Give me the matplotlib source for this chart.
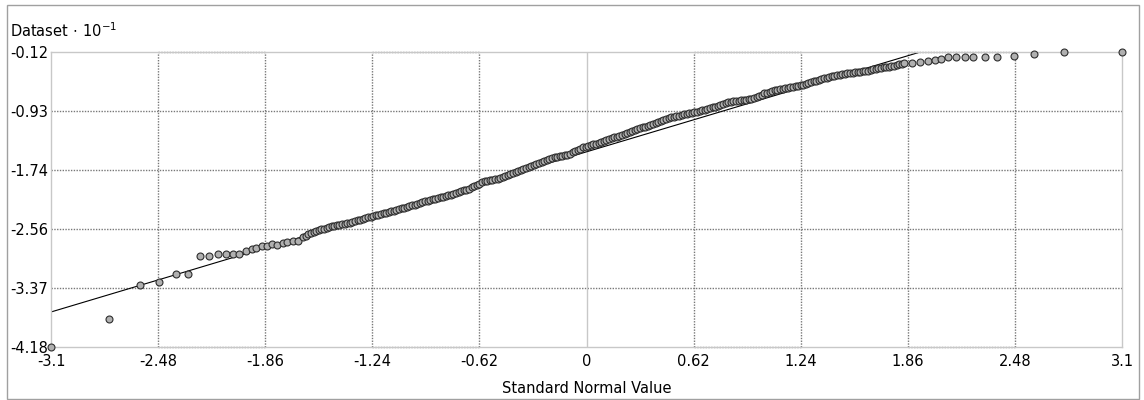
'''plot.py

   Normal probability plot of the dataset (values in units of 10^-1)
'''

import numpy as np
import matplotlib
matplotlib.use('Agg')
import matplotlib.pyplot as plt
from matplotlib.patches import Rectangle


#
#  Data.
#
# Lower tail, individual points (standard normal value, dataset value).
low_x = [-3.100, -2.762, -2.585, -2.473, -2.376, -2.305, -2.235, -2.183,
         -2.131, -2.085, -2.044, -2.010, -1.973, -1.938, -1.913, -1.880,
         -1.851, -1.822, -1.793, -1.758, -1.732, -1.701, -1.672]
low_y = [-4.180, -3.790, -3.327, -3.281, -3.171, -3.171, -2.928, -2.928,
         -2.905, -2.905, -2.900, -2.905, -2.859, -2.836, -2.822, -2.790,
         -2.790, -2.767, -2.776, -2.753, -2.739, -2.725, -2.717]

# Dense middle part of the chain.
mid_x = [-1.64, -1.61, -1.58, -1.55, -1.52, -1.49, -1.46, -1.43, -1.40, -1.37,
         -1.34, -1.31, -1.28, -1.25, -1.22, -1.19, -1.16, -1.13, -1.10, -1.07,
         -1.04, -1.01, -0.98, -0.95, -0.92, -0.89, -0.86, -0.83, -0.80, -0.77,
         -0.74, -0.71, -0.68, -0.65, -0.62, -0.59, -0.56, -0.53, -0.50, -0.47,
         -0.44, -0.41, -0.38, -0.35, -0.32, -0.29, -0.26, -0.23, -0.20, -0.17,
         -0.14, -0.11, -0.08, -0.05, -0.02, 0.01, 0.04, 0.07, 0.10, 0.13,
         0.16, 0.19, 0.22, 0.25, 0.28, 0.31, 0.34, 0.37, 0.40, 0.43,
         0.46, 0.49, 0.52, 0.55, 0.58, 0.61, 0.64, 0.67, 0.70, 0.73,
         0.76, 0.79, 0.82, 0.85, 0.88, 0.91, 0.94, 0.97, 1.00, 1.03,
         1.06, 1.09, 1.12, 1.15, 1.18, 1.21, 1.24, 1.27, 1.30, 1.33,
         1.36, 1.39, 1.42, 1.45, 1.48, 1.51, 1.54, 1.57, 1.60, 1.63,
         1.66, 1.69, 1.72, 1.75, 1.78, 1.81, 1.84]
mid_y = [-2.669, -2.624, -2.595, -2.573, -2.550, -2.528, -2.512, -2.498, -2.484, -2.469,
         -2.449, -2.428, -2.406, -2.385, -2.367, -2.349, -2.331, -2.313, -2.292, -2.272,
         -2.251, -2.231, -2.209, -2.188, -2.167, -2.147, -2.130, -2.112, -2.094, -2.072,
         -2.048, -2.025, -2.001, -1.967, -1.930, -1.901, -1.887, -1.872, -1.857, -1.830,
         -1.803, -1.774, -1.744, -1.715, -1.685, -1.656, -1.629, -1.601, -1.578, -1.564,
         -1.550, -1.535, -1.501, -1.468, -1.434, -1.413, -1.392, -1.370, -1.346, -1.322,
         -1.296, -1.270, -1.245, -1.219, -1.195, -1.171, -1.147, -1.123, -1.096, -1.068,
         -1.040, -1.016, -1.002, -0.987, -0.973, -0.958, -0.940, -0.922, -0.904, -0.883,
         -0.860, -0.836, -0.813, -0.799, -0.790, -0.782, -0.773, -0.749, -0.720, -0.691,
         -0.668, -0.649, -0.631, -0.615, -0.603, -0.591, -0.579, -0.561, -0.537, -0.514,
         -0.490, -0.472, -0.456, -0.441, -0.426, -0.415, -0.406, -0.397, -0.388, -0.377,
         -0.358, -0.342, -0.333, -0.324, -0.308, -0.290, -0.272]

# The points lying between those above.
mid2_x = [-1.625, -1.595, -1.565, -1.535, -1.505, -1.475, -1.445, -1.415, -1.385, -1.355,
          -1.325, -1.295, -1.265, -1.235, -1.205, -1.175, -1.145, -1.115, -1.085, -1.055,
          -1.025, -0.995, -0.965, -0.935, -0.905, -0.875, -0.845, -0.815, -0.785, -0.755,
          -0.725, -0.695, -0.665, -0.635, -0.605, -0.575, -0.545, -0.515, -0.485, -0.455,
          -0.425, -0.395, -0.365, -0.335, -0.305, -0.275, -0.245, -0.215, -0.185, -0.155,
          -0.125, -0.095, -0.065, -0.035, -0.005, 0.025, 0.055, 0.085, 0.115, 0.145,
          0.175, 0.205, 0.235, 0.265, 0.295, 0.325, 0.355, 0.385, 0.415, 0.445,
          0.475, 0.505, 0.535, 0.565, 0.595, 0.625, 0.655, 0.685, 0.715, 0.745,
          0.775, 0.805, 0.835, 0.865, 0.895, 0.925, 0.955, 0.985, 1.015, 1.045,
          1.075, 1.105, 1.135, 1.165, 1.195, 1.225, 1.255, 1.285, 1.315, 1.345,
          1.375, 1.405, 1.435, 1.465, 1.495, 1.525, 1.555, 1.585, 1.615, 1.645,
          1.675, 1.705, 1.735, 1.765, 1.795, 1.825]
mid2_y = [-2.646, -2.610, -2.584, -2.561, -2.539, -2.520, -2.505, -2.491, -2.476, -2.459,
          -2.438, -2.417, -2.395, -2.376, -2.358, -2.340, -2.322, -2.302, -2.282, -2.261,
          -2.241, -2.220, -2.198, -2.177, -2.157, -2.138, -2.121, -2.103, -2.083, -2.060,
          -2.036, -2.013, -1.984, -1.948, -1.915, -1.894, -1.879, -1.864, -1.843, -1.816,
          -1.788, -1.759, -1.729, -1.700, -1.670, -1.642, -1.615, -1.589, -1.571, -1.557,
          -1.542, -1.518, -1.484, -1.451, -1.423, -1.402, -1.381, -1.358, -1.334, -1.309,
          -1.283, -1.257, -1.232, -1.207, -1.183, -1.159, -1.135, -1.109, -1.082, -1.054,
          -1.028, -1.009, -0.994, -0.980, -0.965, -0.949, -0.931, -0.913, -0.893, -0.871,
          -0.848, -0.824, -0.806, -0.794, -0.786, -0.777, -0.761, -0.734, -0.705, -0.679,
          -0.658, -0.640, -0.623, -0.609, -0.597, -0.585, -0.570, -0.549, -0.525, -0.502,
          -0.481, -0.464, -0.448, -0.433, -0.420, -0.410, -0.401, -0.392, -0.382, -0.367,
          -0.350, -0.337, -0.328, -0.316, -0.299, -0.281]

# Upper tail, individual points.
high_x = [1.883, 1.931, 1.979, 2.017, 2.051, 2.091, 2.139, 2.189, 2.239,
          2.309, 2.378, 2.477, 2.589, 2.764, 3.100]
high_y = [-0.267, -0.262, -0.240, -0.230, -0.216, -0.193, -0.193, -0.193,
          -0.193, -0.193, -0.193, -0.171, -0.152, -0.124, -0.120]

# Reference line (end points).
fit_x = [-3.1, 3.1]
fit_y = [-3.698, 0.710]

# Axis ticks and their labels.
x_ticks = [-3.1, -2.48, -1.86, -1.24, -0.62, 0.0, 0.62, 1.24, 1.86, 2.48, 3.1]
x_labels = ['-3.1', '-2.48', '-1.86', '-1.24', '-0.62', '0', '0.62', '1.24',
            '1.86', '2.48', '3.1']
y_ticks = [-0.12, -0.932, -1.744, -2.556, -3.368, -4.18]
y_labels = ['-0.12', '-0.93', '-1.74', '-2.56', '-3.37', '-4.18']


#
#  Plot.
#
W, H = 1144, 400
fig = plt.figure(figsize=(W / 100, H / 100), dpi=100)
ax = fig.add_axes([51 / W, 53 / H, 1071 / W, 295 / H])

xmin, xmax = x_ticks[0], x_ticks[-1]
ymin, ymax = y_ticks[-1], y_ticks[0]
ax.set_xlim(xmin, xmax)
ax.set_ylim(ymin, ymax)

light = '#c8c8c8'
dotted = dict(color='#787878', linestyle=(0, (1, 1)), linewidth=1.0, zorder=1)

for s in ax.spines.values():
    s.set_color(light)
    s.set_linewidth(1.0)

# Grid: dotted lines at inner ticks, light solid line at zero.
for y in y_ticks[1:-1]:
    ax.axhline(y, **dotted)
for x in x_ticks[1:-1]:
    if x == 0.0:
        ax.axvline(x, color=light, linewidth=1.0, zorder=1)
    else:
        ax.axvline(x, **dotted)
# Dotted top/bottom edges of the alternate boxes.
for a, b in [(-2.48, -1.86), (-1.24, -0.62), (0.62, 1.24), (1.86, 2.48)]:
    ax.hlines([ymin, ymax], a, b, clip_on=False, **dotted)

# Reference line, clipped by the axes.
ax.plot(fit_x, fit_y, color='black', linewidth=0.8, zorder=2)

# Points.
px = low_x + mid_x + mid2_x + high_x
py = low_y + mid_y + mid2_y + high_y
order = np.argsort(px)
ax.plot(np.array(px)[order], np.array(py)[order], linestyle='none',
        marker='o', markersize=5.0,
        markerfacecolor='#b0b0b0', markeredgecolor='#2e2e2e',
        markeredgewidth=0.8, clip_on=False, zorder=3)

ax.set_xticks(x_ticks, x_labels)
ax.set_yticks(y_ticks, y_labels)
ax.tick_params(axis='both', length=0, labelsize=10.5, colors='black')
ax.tick_params(axis='x', pad=5)
ax.tick_params(axis='y', pad=29.5)
for t in ax.get_yticklabels():
    t.set_horizontalalignment('left')

ax.set_xlabel('Standard Normal Value', fontsize=10.5, labelpad=9)
fig.text(10 / W, 1 - 31 / H, 'Dataset$\\,\\cdot\\,$10$^{-1}$', fontsize=10.5,
         ha='left', va='center')

# Outer frame.
fig.patches.append(Rectangle((7 / W, 1 / H), 1132 / W, 394 / H,
                             transform=fig.transFigure, fill=False,
                             edgecolor='#a0a0a0', linewidth=1.0))

fig.savefig('out.png', dpi=100)
